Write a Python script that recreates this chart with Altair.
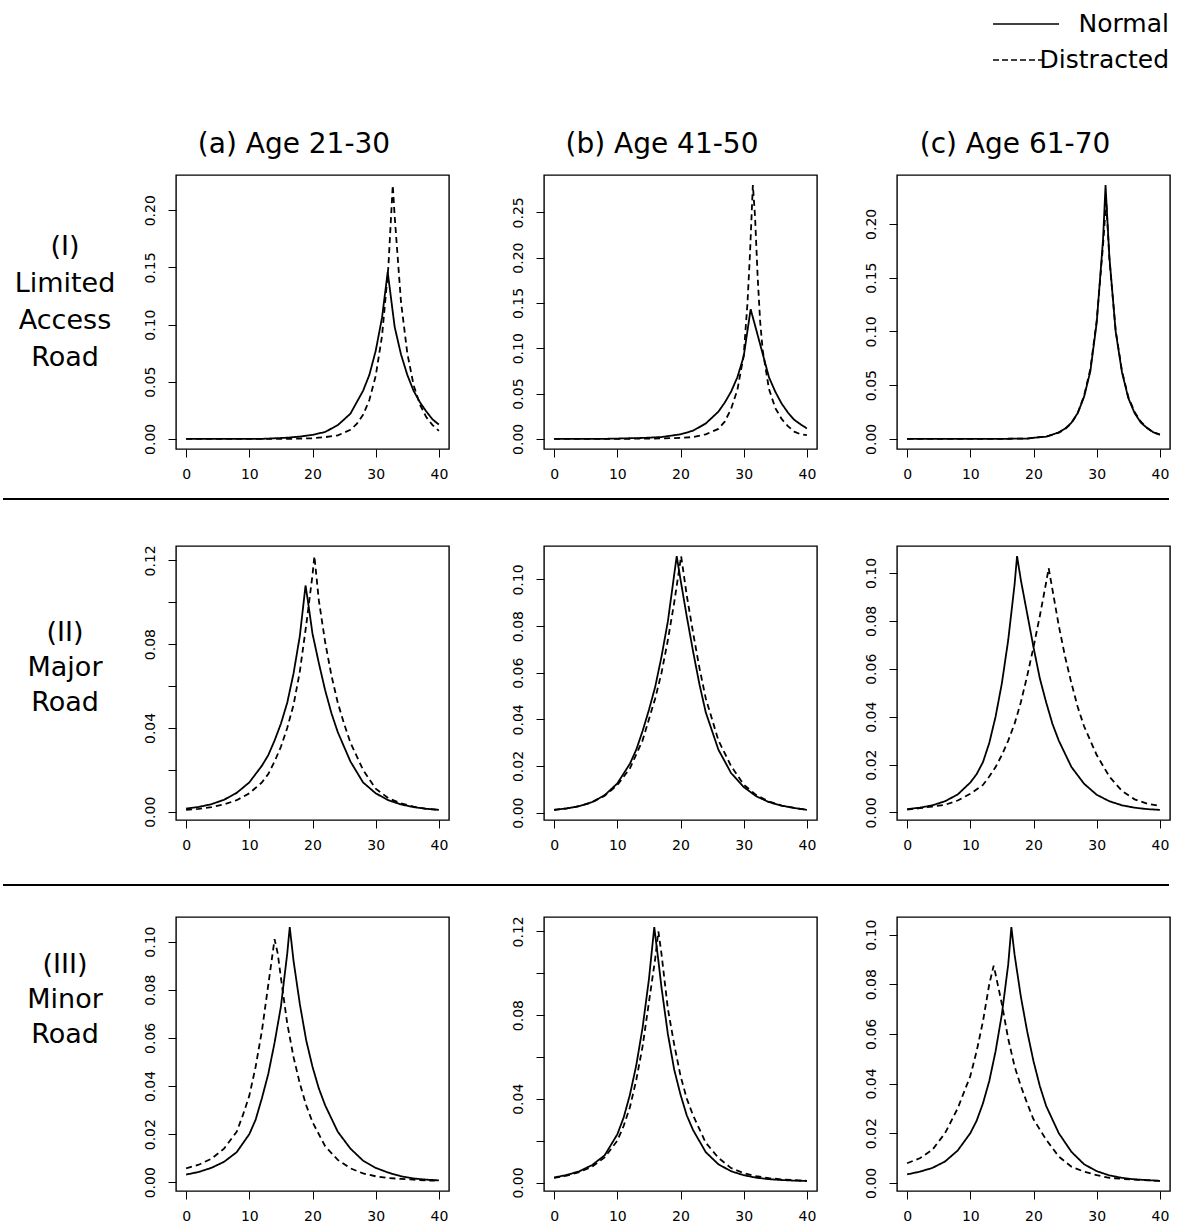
import altair as alt
import pandas as pd

FONT = "DejaVu Sans"
W, H = 273, 274

# ---------------- data ----------------
row_labels = ["(I)\nLimited\nAccess\nRoad", "(II)\nMajor\nRoad", "(III)\nMinor\nRoad"]
col_titles = ["(a) Age 21-30", "(b) Age 41-50", "(c) Age 61-70"]
series_names = ["Normal", "Distracted"]
x_ticks = [0, 10, 20, 30, 40]

# Row I  - Limited Access Road
x_Ia_n = [0, 4, 8, 12, 16, 18, 20, 22, 24, 26, 28, 29, 30, 31, 31.9, 33, 34, 35, 36, 37, 38, 39, 40]
y_Ia_n = [0, 0, 0, 0, 0.001, 0.002, 0.0035, 0.006, 0.012, 0.022, 0.042, 0.056, 0.077, 0.106, 0.146, 0.098, 0.074, 0.056, 0.042, 0.032, 0.024, 0.017, 0.0125]
x_Ia_d = [0, 4, 8, 12, 16, 20, 22, 24, 26, 27, 28, 29, 30, 31, 32, 32.7, 33, 34, 35, 36, 37, 38, 39, 40]
y_Ia_d = [0, 0, 0, 0, 0, 0.0005, 0.0015, 0.003, 0.008, 0.013, 0.021, 0.034, 0.055, 0.09, 0.15, 0.222, 0.195, 0.12, 0.075, 0.047, 0.03, 0.019, 0.012, 0.007]

x_Ib_n = [0, 4, 8, 11, 14, 17, 19, 20, 22, 24, 26, 27, 28, 29, 30, 31.1, 32, 33, 34, 35, 36, 37, 38, 39, 40]
y_Ib_n = [0, 0, 0, 0.0005, 0.001, 0.002, 0.004, 0.005, 0.009, 0.017, 0.030, 0.040, 0.052, 0.068, 0.091, 0.143, 0.120, 0.094, 0.068, 0.052, 0.039, 0.029, 0.021, 0.016, 0.0115]
x_Ib_d = [0, 5, 10, 15, 20, 22, 24, 26, 27, 28, 29, 30, 30.6, 31, 31.45, 31.8, 32.2, 32.6, 33, 34, 35, 36, 37, 38, 39, 40]
y_Ib_d = [0, 0, 0, 0.0003, 0.001, 0.002, 0.005, 0.011, 0.019, 0.033, 0.054, 0.092, 0.150, 0.205, 0.280, 0.245, 0.180, 0.130, 0.098, 0.055, 0.034, 0.022, 0.014, 0.008, 0.005, 0.004]

x_Ic_n = [0, 5, 10, 15, 19, 20, 22, 23, 24, 25, 26, 27, 28, 29, 30, 31, 31.4, 32, 33, 34, 35, 36, 37, 38, 39, 40]
y_Ic_n = [0, 0, 0, 0, 0.0003, 0.001, 0.002, 0.004, 0.006, 0.0095, 0.015, 0.024, 0.039, 0.063, 0.108, 0.185, 0.236, 0.170, 0.100, 0.062, 0.038, 0.024, 0.015, 0.010, 0.006, 0.004]
x_Ic_d = [0, 5, 10, 15, 19, 20, 22, 23, 24, 25, 26, 27, 28, 29, 30, 31, 31.5, 32, 33, 34, 35, 36, 37, 38, 39, 40]
y_Ic_d = [0, 0, 0, 0, 0.0003, 0.001, 0.002, 0.0038, 0.0058, 0.009, 0.0145, 0.024, 0.040, 0.065, 0.110, 0.180, 0.222, 0.168, 0.101, 0.063, 0.039, 0.025, 0.016, 0.010, 0.006, 0.004]

# Row II - Major Road
x_IIa_n = [0, 2, 4, 6, 8, 10, 12, 13, 14, 15, 16, 17, 18, 18.9, 19.3, 20, 21, 22, 23, 24, 26, 28, 30, 32, 34, 36, 38, 40]
y_IIa_n = [0.0015, 0.0023, 0.0036, 0.0057, 0.0090, 0.014, 0.022, 0.027, 0.034, 0.042, 0.052, 0.066, 0.084, 0.108, 0.100, 0.085, 0.071, 0.058, 0.047, 0.038, 0.024, 0.014, 0.0088, 0.0055, 0.0035, 0.0022, 0.0014, 0.0009]
x_IIa_d = [0, 2, 4, 6, 8, 10, 12, 13, 14, 15, 16, 17, 18, 19, 20, 20.3, 21, 22, 23, 24, 25, 26, 28, 30, 32, 34, 36, 38, 40]
y_IIa_d = [0.0009, 0.0014, 0.0022, 0.0035, 0.0055, 0.0088, 0.014, 0.018, 0.024, 0.031, 0.040, 0.051, 0.067, 0.089, 0.113, 0.122, 0.101, 0.081, 0.065, 0.052, 0.042, 0.033, 0.020, 0.011, 0.0065, 0.004, 0.0024, 0.0014, 0.0009]

x_IIb_n = [0, 2, 4, 6, 8, 10, 12, 13, 14, 15, 16, 17, 18, 19.4, 20, 21, 22, 23, 24, 26, 28, 30, 32, 34, 36, 38, 40]
y_IIb_n = [0.0012, 0.0018, 0.0028, 0.0045, 0.0075, 0.0125, 0.021, 0.027, 0.035, 0.044, 0.054, 0.067, 0.082, 0.110, 0.100, 0.084, 0.069, 0.055, 0.043, 0.027, 0.017, 0.011, 0.007, 0.0045, 0.003, 0.002, 0.0012]
x_IIb_d = [0, 2, 4, 6, 8, 10, 12, 14, 16, 17, 18, 19, 20.1, 21, 22, 23, 24, 26, 28, 30, 32, 34, 36, 38, 40]
y_IIb_d = [0.0012, 0.0018, 0.0028, 0.0044, 0.0072, 0.0118, 0.019, 0.031, 0.049, 0.060, 0.074, 0.090, 0.110, 0.093, 0.077, 0.062, 0.049, 0.031, 0.020, 0.012, 0.0075, 0.0048, 0.003, 0.002, 0.0012]

x_IIc_n = [0, 2, 4, 6, 8, 10, 11, 12, 13, 14, 15, 16, 17, 17.4, 18, 19, 20, 21, 22, 23, 24, 26, 28, 30, 32, 34, 36, 38, 40]
y_IIc_n = [0.0014, 0.002, 0.003, 0.0047, 0.0075, 0.0125, 0.016, 0.021, 0.029, 0.040, 0.054, 0.072, 0.095, 0.107, 0.097, 0.083, 0.069, 0.056, 0.046, 0.037, 0.030, 0.019, 0.012, 0.0074, 0.0047, 0.003, 0.002, 0.0014, 0.0011]
x_IIc_d = [0, 2, 4, 6, 8, 10, 12, 13, 14, 15, 16, 17, 18, 19, 20, 21, 22, 22.4, 23, 24, 25, 26, 27, 28, 30, 32, 34, 36, 38, 40]
y_IIc_d = [0.0012, 0.0018, 0.0025, 0.0032, 0.0050, 0.0078, 0.0115, 0.015, 0.019, 0.024, 0.030, 0.037, 0.046, 0.057, 0.069, 0.082, 0.096, 0.102, 0.093, 0.078, 0.065, 0.054, 0.044, 0.036, 0.024, 0.015, 0.009, 0.0055, 0.0037, 0.0027]

# Row III - Minor Road
x_IIIa_n = [0, 2, 4, 6, 8, 10, 11, 12, 13, 14, 15, 16, 16.4, 17, 18, 19, 20, 21, 22, 24, 26, 28, 30, 32, 34, 36, 38, 40]
y_IIIa_n = [0.0032, 0.0043, 0.006, 0.0085, 0.0125, 0.020, 0.026, 0.035, 0.045, 0.058, 0.073, 0.095, 0.106, 0.092, 0.074, 0.059, 0.048, 0.039, 0.032, 0.021, 0.014, 0.009, 0.006, 0.004, 0.0025, 0.0016, 0.0011, 0.0008]
x_IIIa_d = [0, 2, 4, 6, 8, 9, 10, 11, 12, 13, 14, 14.5, 15, 16, 17, 18, 19, 20, 22, 24, 26, 28, 30, 32, 34, 36, 38, 40]
y_IIIa_d = [0.0058, 0.0073, 0.0098, 0.014, 0.021, 0.028, 0.036, 0.048, 0.063, 0.082, 0.101, 0.095, 0.085, 0.066, 0.052, 0.041, 0.032, 0.025, 0.015, 0.0093, 0.0058, 0.0037, 0.0025, 0.0018, 0.0014, 0.0011, 0.0008, 0.0006]

x_IIIb_n = [0, 2, 4, 6, 8, 10, 11, 12, 13, 14, 15, 15.85, 16.5, 17, 18, 19, 20, 21, 22, 24, 26, 28, 30, 32, 34, 36, 38, 40]
y_IIIb_n = [0.0024, 0.0036, 0.0054, 0.0083, 0.013, 0.023, 0.031, 0.042, 0.056, 0.074, 0.097, 0.122, 0.106, 0.093, 0.071, 0.054, 0.042, 0.032, 0.025, 0.0145, 0.0087, 0.0054, 0.0035, 0.0023, 0.0016, 0.0012, 0.0009, 0.0008]
x_IIIb_d = [0, 2, 4, 6, 8, 10, 11, 12, 13, 14, 15, 16, 16.5, 17, 18, 19, 20, 21, 22, 24, 26, 28, 30, 32, 34, 36, 38, 40]
y_IIIb_d = [0.0022, 0.0033, 0.005, 0.0075, 0.012, 0.020, 0.027, 0.036, 0.049, 0.065, 0.086, 0.107, 0.120, 0.109, 0.083, 0.066, 0.051, 0.040, 0.032, 0.019, 0.0118, 0.0069, 0.0045, 0.003, 0.0021, 0.0015, 0.0011, 0.0008]

x_IIIc_n = [0, 2, 4, 6, 8, 10, 11, 12, 13, 14, 15, 16, 16.5, 17, 18, 19, 20, 21, 22, 24, 26, 28, 30, 32, 34, 36, 38, 40]
y_IIIc_n = [0.0034, 0.0045, 0.006, 0.0086, 0.013, 0.020, 0.025, 0.032, 0.041, 0.053, 0.068, 0.088, 0.103, 0.092, 0.075, 0.061, 0.049, 0.039, 0.031, 0.020, 0.0125, 0.0075, 0.0047, 0.003, 0.002, 0.0014, 0.0011, 0.0008]
x_IIIc_d = [0, 2, 4, 6, 8, 10, 11, 12, 13, 13.7, 14, 15, 16, 17, 18, 19, 20, 22, 24, 26, 28, 30, 32, 34, 36, 38, 40]
y_IIIc_d = [0.0079, 0.0099, 0.0133, 0.020, 0.030, 0.043, 0.053, 0.065, 0.080, 0.0875, 0.084, 0.072, 0.058, 0.047, 0.039, 0.032, 0.0256, 0.0174, 0.0106, 0.0065, 0.0045, 0.0031, 0.002, 0.0016, 0.0013, 0.001, 0.0008]

# y-axis ticks and which of them carry labels
yt_I_ab = [0, 0.05, 0.10, 0.15, 0.20]
yt_I_b = [0, 0.05, 0.10, 0.15, 0.20, 0.25]
yt_012 = [0, 0.02, 0.04, 0.06, 0.08, 0.10, 0.12]
yt_010 = [0, 0.02, 0.04, 0.06, 0.08, 0.10]
lab_all = None
lab_004 = ["0.00", "0.04", "0.08", "0.12"]

panels = [
    [(x_Ia_n, y_Ia_n, x_Ia_d, y_Ia_d, yt_I_ab, lab_all),
     (x_Ib_n, y_Ib_n, x_Ib_d, y_Ib_d, yt_I_b, lab_all),
     (x_Ic_n, y_Ic_n, x_Ic_d, y_Ic_d, yt_I_ab, lab_all)],
    [(x_IIa_n, y_IIa_n, x_IIa_d, y_IIa_d, yt_012, lab_004),
     (x_IIb_n, y_IIb_n, x_IIb_d, y_IIb_d, yt_010, lab_all),
     (x_IIc_n, y_IIc_n, x_IIc_d, y_IIc_d, yt_010, lab_all)],
    [(x_IIIa_n, y_IIIa_n, x_IIIa_d, y_IIIa_d, yt_010, lab_all),
     (x_IIIb_n, y_IIIb_n, x_IIIb_d, y_IIIb_d, yt_012, lab_004),
     (x_IIIc_n, y_IIIc_n, x_IIIc_d, y_IIIc_d, yt_010, lab_all)],
]

# ---------------- helpers ----------------
one = pd.DataFrame({"k": [0]})


def text_layer(txt, x, y, size, align="center", line_height=None):
    kw = dict(font=FONT, fontSize=size, align=align, baseline="middle", color="black", lineBreak="\n")
    if line_height:
        kw["lineHeight"] = line_height
    return alt.Chart(pd.DataFrame({"t": [txt]})).mark_text(**kw).encode(
        text="t:N", x=alt.value(x), y=alt.value(y))


def rule_layer(x1, x2, y, width=2, dash=None, color="black"):
    kw = dict(color=color, strokeWidth=width)
    if dash:
        kw["strokeDash"] = dash
    return alt.Chart(one).mark_rule(**kw).encode(
        x=alt.value(x1), x2=alt.value(x2), y=alt.value(y))


def panel(xn, yn, xd, yd, yticks, labs, extras):
    df = pd.DataFrame({
        "x": xn + xd,
        "y": yn + yd,
        "s": [series_names[0]] * len(xn) + [series_names[1]] * len(xd),
    })
    lo, hi = min(yn + yd), max(yn + yd)
    pad = 0.04 * (hi - lo)
    yaxis = dict(values=yticks, title=None, grid=False, domain=False, tickSize=8,
                 tickColor="black", tickWidth=1, labelAngle=270, labelAlign="center",
                 labelBaseline="bottom", labelPadding=11, format=".2f", labelFont=FONT,
                 labelFontSize=14, labelColor="black", labelFlush=False, labelOverlap=False)
    if labs:
        yaxis["labelExpr"] = "indexof([%s], datum.label) >= 0 ? datum.label : ''" % \
            ", ".join("'%s'" % l for l in labs)
    lines = alt.Chart(df).mark_line(color="black", strokeWidth=1.8).encode(
        x=alt.X("x:Q", scale=alt.Scale(domain=[-1.6, 41.6], nice=False, zero=False),
                axis=alt.Axis(values=x_ticks, title=None, grid=False, domain=False, tickSize=8,
                              tickColor="black", tickWidth=1, labelFont=FONT, labelFontSize=14,
                              labelColor="black", labelPadding=10, labelFlush=False,
                              labelOverlap=False, format="d")),
        y=alt.Y("y:Q", scale=alt.Scale(domain=[lo - pad, hi + pad], nice=False, zero=False),
                axis=alt.Axis(**yaxis)),
        strokeDash=alt.StrokeDash("s:N", scale=alt.Scale(domain=series_names, range=[[1, 0], [6, 4]]),
                                  legend=None),
        order=alt.Order("x:Q"),
    )
    return alt.layer(lines, *extras).properties(width=W, height=H)


def spacer(w):
    return alt.Chart(one).mark_point(opacity=0).encode(
        x=alt.value(0), y=alt.value(0)).properties(
        width=w, height=H, view=alt.ViewBackground(strokeOpacity=0))


# annotations (pixel offsets relative to each panel's plot area)
extras = [[[], [], []] for _ in range(3)]
# origin pin (white, invisible)
extras[0][0].append(rule_layer(-174, -173, -173, width=1, color="white"))
# column titles
for j, t in enumerate(col_titles):
    extras[0][j].append(text_layer(t, 118, -30, 28))
# row labels (y = first line)
extras[0][0].append(text_layer(row_labels[0], -111, 72, 27, line_height=37))
extras[1][0].append(text_layer(row_labels[1], -111, 87, 27, line_height=35))
extras[2][0].append(text_layer(row_labels[2], -111, 48, 27, line_height=35))
# separators
extras[0][0].append(rule_layer(-173, 993, 324, width=2))
extras[1][0].append(rule_layer(-173, 993, 339, width=2))
# legend
extras[0][2].append(rule_layer(96, 162, -151, width=1.5))
extras[0][2].append(rule_layer(96, 146, -115, width=1.5, dash=[6, 3]))
extras[0][2].append(text_layer(series_names[0], 272, -151, 25, align="right"))
extras[0][2].append(text_layer(series_names[1], 272, -115, 25, align="right"))

items = []
for i in range(3):
    for j in range(3):
        p = panels[i][j]
        items.append(panel(*p, extras[i][j]))
        if j == 0:
            items.append(spacer(95))
        elif j == 1:
            items.append(spacer(80))

chart = alt.concat(*items, columns=5, spacing={"row": 97, "column": 0},
                   bounds="flush", align="each").properties(
    padding=0, background="white").configure_view(stroke="black", strokeWidth=1.4)

chart.save("out.html", embed_options={"renderer": "svg", "actions": False})
